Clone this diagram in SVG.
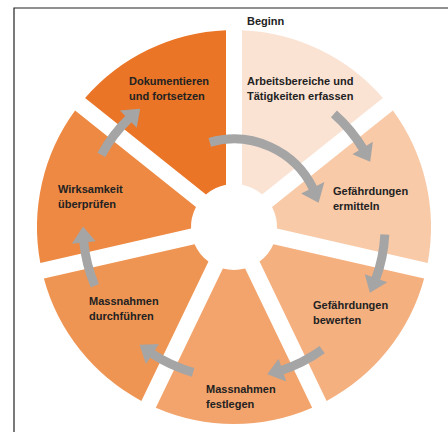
<svg xmlns="http://www.w3.org/2000/svg" width="448" height="432" viewBox="0 0 448 432">
<defs>
<style>
.t{font-family:"Liberation Sans",Arial,sans-serif;font-weight:bold;font-size:11px;fill:#222}
.shaft{fill:none;stroke:#A5A5A5;stroke-width:9}
.head{fill:#A5A5A5}
</style>
<path id="seg" d="M242,30.16 A197 197 0 0 1 382.91,98.02 L262.05,194.4 A43 43 0 0 0 242,184.75 Z"/>
<g id="sarrow">
<path class="shaft" d="M207.78,78.29 A151 151 0 0 1 253.71,77.29"/>
<polygon class="head" points="253.86,65.21 267.97,79.87 250.94,89.04"/>
</g>
</defs>
<rect width="448" height="432" fill="#fff"/>
<path d="M14,432 V8 H448" fill="none" stroke="#222" stroke-width="1.2"/>
<text class="t" x="247" y="25">Beginn</text>

<g id="n1">
<use href="#seg" fill="#FBE3D4"/>
<text class="t" x="247" y="85">Arbeitsbereiche und</text>
<text class="t" x="247" y="100">Tätigkeiten erfassen</text>
</g>
<g id="n2">
<use href="#seg" fill="#F8CAA8" transform="rotate(51.4286 234 227)"/>
<text class="t" x="333" y="195">Gefährdungen</text>
<text class="t" x="333" y="210">ermitteln</text>
</g>
<g id="n3">
<use href="#seg" fill="#F5B080" transform="rotate(102.8571 234 227)"/>
<text class="t" x="313" y="309">Gefährdungen</text>
<text class="t" x="313" y="324">bewerten</text>
</g>
<g id="n4">
<use href="#seg" fill="#F2A46C" transform="rotate(154.2857 234 227)"/>
<text class="t" x="206" y="393">Massnahmen</text>
<text class="t" x="206" y="408">festlegen</text>
</g>
<g id="n5">
<use href="#seg" fill="#EF9553" transform="rotate(205.7143 234 227)"/>
<text class="t" x="89" y="305">Massnahmen</text>
<text class="t" x="89" y="320">durchführen</text>
</g>
<g id="n6">
<use href="#seg" fill="#ED8942" transform="rotate(257.1429 234 227)"/>
<text class="t" x="58" y="193">Wirksamkeit</text>
<text class="t" x="58" y="208">überprüfen</text>
</g>
<g id="n7">
<use href="#seg" fill="#EA7526" transform="rotate(308.5714 234 227)"/>
<text class="t" x="129" y="85">Dokumentieren</text>
<text class="t" x="129" y="100">und fortsetzen</text>
</g>

<g id="connectors">
<use href="#sarrow" transform="rotate(51.4286 234 227)"/>
<use href="#sarrow" transform="rotate(102.8571 234 227)"/>
<use href="#sarrow" transform="rotate(154.2857 234 227)"/>
<use href="#sarrow" transform="rotate(205.7143 234 227)"/>
<use href="#sarrow" transform="rotate(257.1429 234 227)"/>
<use href="#sarrow" transform="rotate(308.5714 234 227)"/>
<path class="shaft" stroke-width="10" d="M209.74,142.41 A88 88 0 0 1 313.43,189.12"/>
<polygon class="head" points="324.39,181.93 318.59,202.74 301.12,193.53"/>
</g>
</svg>
